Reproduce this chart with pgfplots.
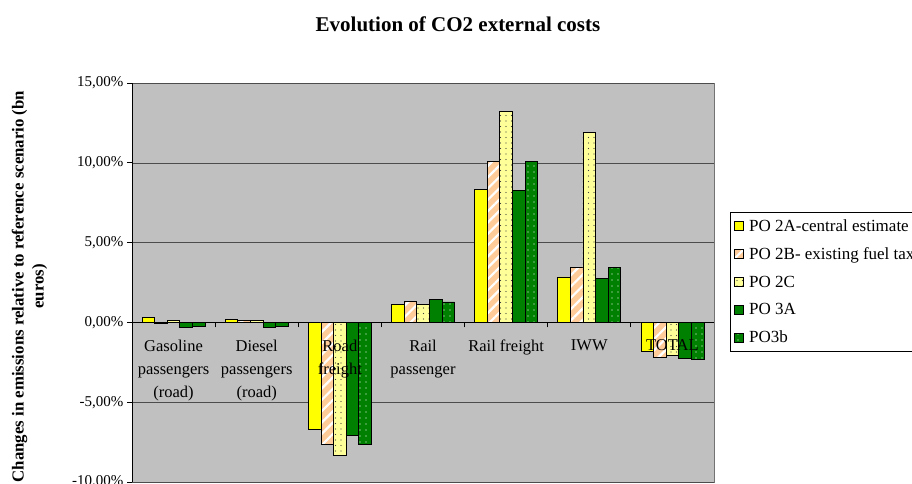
\documentclass[border=0pt]{standalone}
\usepackage{fontspec}
\setmainfont{Liberation Serif}
\usepackage{pgfplots}
\pgfplotsset{compat=1.18}
\usetikzlibrary{patterns.meta}

\definecolor{bggrey}{HTML}{C0C0C0}
\definecolor{poA}{HTML}{FFFF00}
\definecolor{poB}{HTML}{FFCC99}
\definecolor{poC}{HTML}{FFFF99}
\definecolor{poD}{HTML}{008000}

\tikzset{catlabel/.style={anchor=north, align=center, yshift=-14pt, font=\fontsize{16.5}{23}\selectfont}}

\begin{document}
\begin{tikzpicture}
\begin{axis}[
    at={(132pt,-482pt)}, anchor=south west,
    scale only axis, width=582pt, height=399pt,
    ybar=0pt, bar width=12.6pt,
    xmin=-0.5, xmax=6.5, ymin=-10, ymax=15,
    axis x line*=middle, axis y line*=left,
    axis background/.style={fill=bggrey, draw=black!55, line width=1pt},
    axis line style={black, line width=0.8pt},
    ymajorgrids, grid style={black!70, line width=0.6pt},
    hide obscured y ticks=false,
    tick align=outside, major tick length=5pt,
    tick style={black, line width=0.8pt},
    ytick={-10,-5,0,5,10,15},
    yticklabels={{-10,00\%},{-5,00\%},{0,00\%},{5,00\%},{10,00\%},{15,00\%}},
    yticklabel style={font=\fontsize{15}{18}\selectfont},
    xtick={0.5,1.5,...,5.5}, xticklabels={},
    title={Evolution of CO2 external costs},
    title style={font=\bfseries\fontsize{21}{24}\selectfont, at={(axis description cs:0.5601,1.131)}, anchor=center},
    ylabel={Changes in emissions relative to reference scenario (bn\\euros)},
    ylabel style={font=\bfseries\fontsize{16.8}{20}\selectfont, align=center, at={(axis description cs:-0.1761,0.49)}, anchor=center},
    legend style={at={(1.0275,0.6767)}, anchor=north west, draw=black, fill=white,
        line width=0.8pt, font=\fontsize{17}{20}\selectfont, row sep=10.8pt,
        inner xsep=4pt, inner ysep=5pt,
        /tikz/every odd column/.append style={column sep=3pt}},
    legend cell align=left,
    legend image code/.code={\draw[#1, draw=black, line width=0.8pt] (0pt,-4.5pt) rectangle (9pt,4.5pt);},
]
\addplot[fill=poA, draw=black, line width=0.8pt] coordinates
    {(0,0.33) (1,0.20) (2,-6.72) (3,1.10) (4,8.33) (5,2.85) (6,-1.82)};
\addlegendentry{PO 2A-central estimate}
\addplot[fill=poB, draw=black, line width=0.8pt,
    postaction={pattern color=white, pattern={Lines[angle=45,distance=8pt,line width=2.2pt]}}] coordinates
    {(0,-0.08) (1,0.10) (2,-7.62) (3,1.34) (4,10.10) (5,3.47) (6,-2.18)};
\addlegendentry{PO 2B- existing fuel tax}
\addplot[fill=poC, draw=black, line width=0.8pt,
    postaction={pattern color=black!75, pattern={Dots[distance=5.5pt,radius=0.7pt]}}] coordinates
    {(0,0.12) (1,0.10) (2,-8.35) (3,1.10) (4,13.20) (5,11.90) (6,-2.07)};
\addlegendentry{PO 2C}
\addplot[fill=poD, draw=black, line width=0.8pt] coordinates
    {(0,-0.30) (1,-0.30) (2,-7.10) (3,1.45) (4,8.25) (5,2.74) (6,-2.28)};
\addlegendentry{PO 3A}
\addplot[fill=poD, draw=black, line width=0.8pt,
    postaction={pattern color=white, pattern={Dots[distance=6pt,radius=0.7pt]}}] coordinates
    {(0,-0.23) (1,-0.23) (2,-7.67) (3,1.28) (4,10.10) (5,3.47) (6,-2.34)};
\addlegendentry{PO3b}
% category names sit on the zero line, over the bars
\node[catlabel] at (axis cs:0,0) {Gasoline\\passengers\\(road)};
\node[catlabel] at (axis cs:1,0) {Diesel\\passengers\\(road)};
\node[catlabel] at (axis cs:2,0) {Road\\freight};
\node[catlabel] at (axis cs:3,0) {Rail\\passenger};
\node[catlabel] at (axis cs:4,0) {Rail freight};
\node[catlabel] at (axis cs:5,0) {IWW};
\node[catlabel] at (axis cs:6,0) {TOTAL};
\end{axis}
\pgfresetboundingbox
\useasboundingbox (0,0) rectangle (912pt,-484pt);
\end{tikzpicture}
\end{document}
